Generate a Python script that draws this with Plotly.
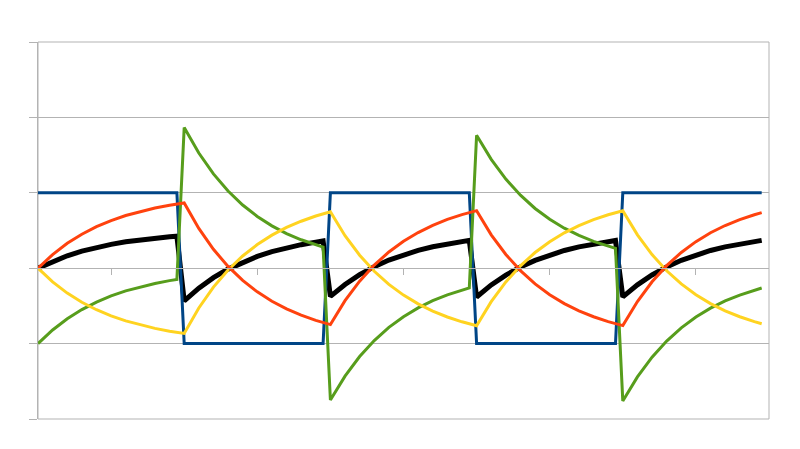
import plotly.graph_objects as go

# Zeitachse (Einheiten = halbe Periode), je Halbperiode 11 Stützstellen
zeit = [
    0.0, 0.1, 0.2, 0.3, 0.4, 0.5, 0.6, 0.7, 0.8, 0.9, 0.95,
    1.0, 1.1, 1.2, 1.3, 1.4, 1.5, 1.6, 1.7, 1.8, 1.9, 1.95,
    2.0, 2.1, 2.2, 2.3, 2.4, 2.5, 2.6, 2.7, 2.8, 2.9, 2.95,
    3.0, 3.1, 3.2, 3.3, 3.4, 3.5, 3.6, 3.7, 3.8, 3.9, 3.95,
    4.0, 4.1, 4.2, 4.3, 4.4, 4.5, 4.6, 4.7, 4.8, 4.9, 4.95,
]

# Rechteckspannung (blau)
eingang = [1] * 11 + [-1] * 11 + [1] * 11 + [-1] * 11 + [1] * 11

# Kondensatorspannung (rot)
u_c = [
    0.0, 0.181, 0.330, 0.451, 0.551, 0.632, 0.699, 0.753, 0.798, 0.835, 0.850,
    0.865, 0.527, 0.250, 0.024, -0.162, -0.314, -0.438, -0.540, -0.623, -0.692, -0.721,
    -0.748, -0.431, -0.172, 0.041, 0.215, 0.357, 0.473, 0.569, 0.647, 0.711, 0.738,
    0.763, 0.443, 0.182, -0.032, -0.208, -0.351, -0.469, -0.565, -0.644, -0.709, -0.736,
    -0.761, -0.442, -0.180, 0.034, 0.209, 0.352, 0.470, 0.566, 0.644, 0.709, 0.737,
]

# gespiegelte Kondensatorspannung (gelb)
u_c_neg = [
    0.0, -0.181, -0.330, -0.451, -0.551, -0.632, -0.699, -0.753, -0.798, -0.835, -0.850,
    -0.865, -0.527, -0.250, -0.024, 0.162, 0.314, 0.438, 0.540, 0.623, 0.692, 0.721,
    0.748, 0.431, 0.172, -0.041, -0.215, -0.357, -0.473, -0.569, -0.647, -0.711, -0.738,
    -0.763, -0.443, -0.182, 0.032, 0.208, 0.351, 0.469, 0.565, 0.644, 0.709, 0.736,
    0.761, 0.442, 0.180, -0.034, -0.209, -0.352, -0.470, -0.566, -0.644, -0.709, -0.737,
]

# Widerstandsspannung (grün)
u_r = [
    -1.0, -0.819, -0.670, -0.549, -0.449, -0.368, -0.301, -0.247, -0.202, -0.165, -0.150,
    1.865, 1.527, 1.250, 1.024, 0.838, 0.686, 0.562, 0.460, 0.377, 0.308, 0.279,
    -1.748, -1.431, -1.172, -0.959, -0.785, -0.643, -0.527, -0.431, -0.353, -0.289, -0.262,
    1.763, 1.443, 1.182, 0.968, 0.792, 0.649, 0.531, 0.435, 0.356, 0.291, 0.264,
    -1.761, -1.442, -1.180, -0.966, -0.791, -0.648, -0.530, -0.434, -0.356, -0.291, -0.263,
]

# Leistungsverlauf (schwarz)
leistung = [
    0.0, 0.091, 0.165, 0.226, 0.276, 0.316, 0.350, 0.377, 0.399, 0.418, 0.425,
    -0.433, -0.264, -0.125, -0.012, 0.081, 0.157, 0.219, 0.270, 0.312, 0.346, 0.361,
    -0.374, -0.216, -0.086, 0.021, 0.108, 0.179, 0.237, 0.285, 0.324, 0.356, 0.369,
    -0.382, -0.222, -0.091, 0.016, 0.104, 0.176, 0.235, 0.283, 0.322, 0.355, 0.368,
    -0.381, -0.221, -0.090, 0.017, 0.105, 0.176, 0.235, 0.283, 0.322, 0.355, 0.369,
]

fig = go.Figure()

# Reihenfolge wie im Original: schwarz unten, rot oben
serien = [
    (leistung, '#000000', 5),
    (eingang, '#004586', 3),
    (u_r, '#579d1c', 3),
    (u_c_neg, '#ffd320', 3),
    (u_c, '#ff420e', 3),
]
for werte, farbe, breite in serien:
    fig.add_trace(go.Scatter(
        x=zeit,
        y=werte,
        mode='lines',
        line=dict(color=farbe, width=breite),
        showlegend=False,
        hoverinfo='skip'
    ))

grau = '#b3b3b3'

# Rahmen des Diagrammbereichs
fig.add_shape(type='rect', xref='paper', yref='paper', x0=0, y0=0, x1=1, y1=1,
              line=dict(color=grau, width=1), layer='below')

# Seite hat 8px Rand -> Ränder entsprechend verschoben
fig.update_layout(
    width=800,
    height=449,
    margin=dict(l=30, r=39, t=34, b=38),
    plot_bgcolor='white',
    paper_bgcolor='white',
    xaxis=dict(
        range=[0, 5],
        anchor='free',
        position=0.4,
        showgrid=False,
        zeroline=False,
        showline=True,
        linecolor=grau,
        linewidth=1,
        ticks='outside',
        ticklen=6,
        tickcolor=grau,
        tickvals=[0.5, 1.5, 2.5, 3.5, 4.5],
        showticklabels=False
    ),
    yaxis=dict(
        range=[-2, 3],
        dtick=1,
        showgrid=True,
        gridcolor=grau,
        gridwidth=1,
        zeroline=False,
        showline=True,
        linecolor=grau,
        ticks='outside',
        ticklen=8,
        tickcolor=grau,
        showticklabels=False
    )
)

fig.write_html("out.html")
